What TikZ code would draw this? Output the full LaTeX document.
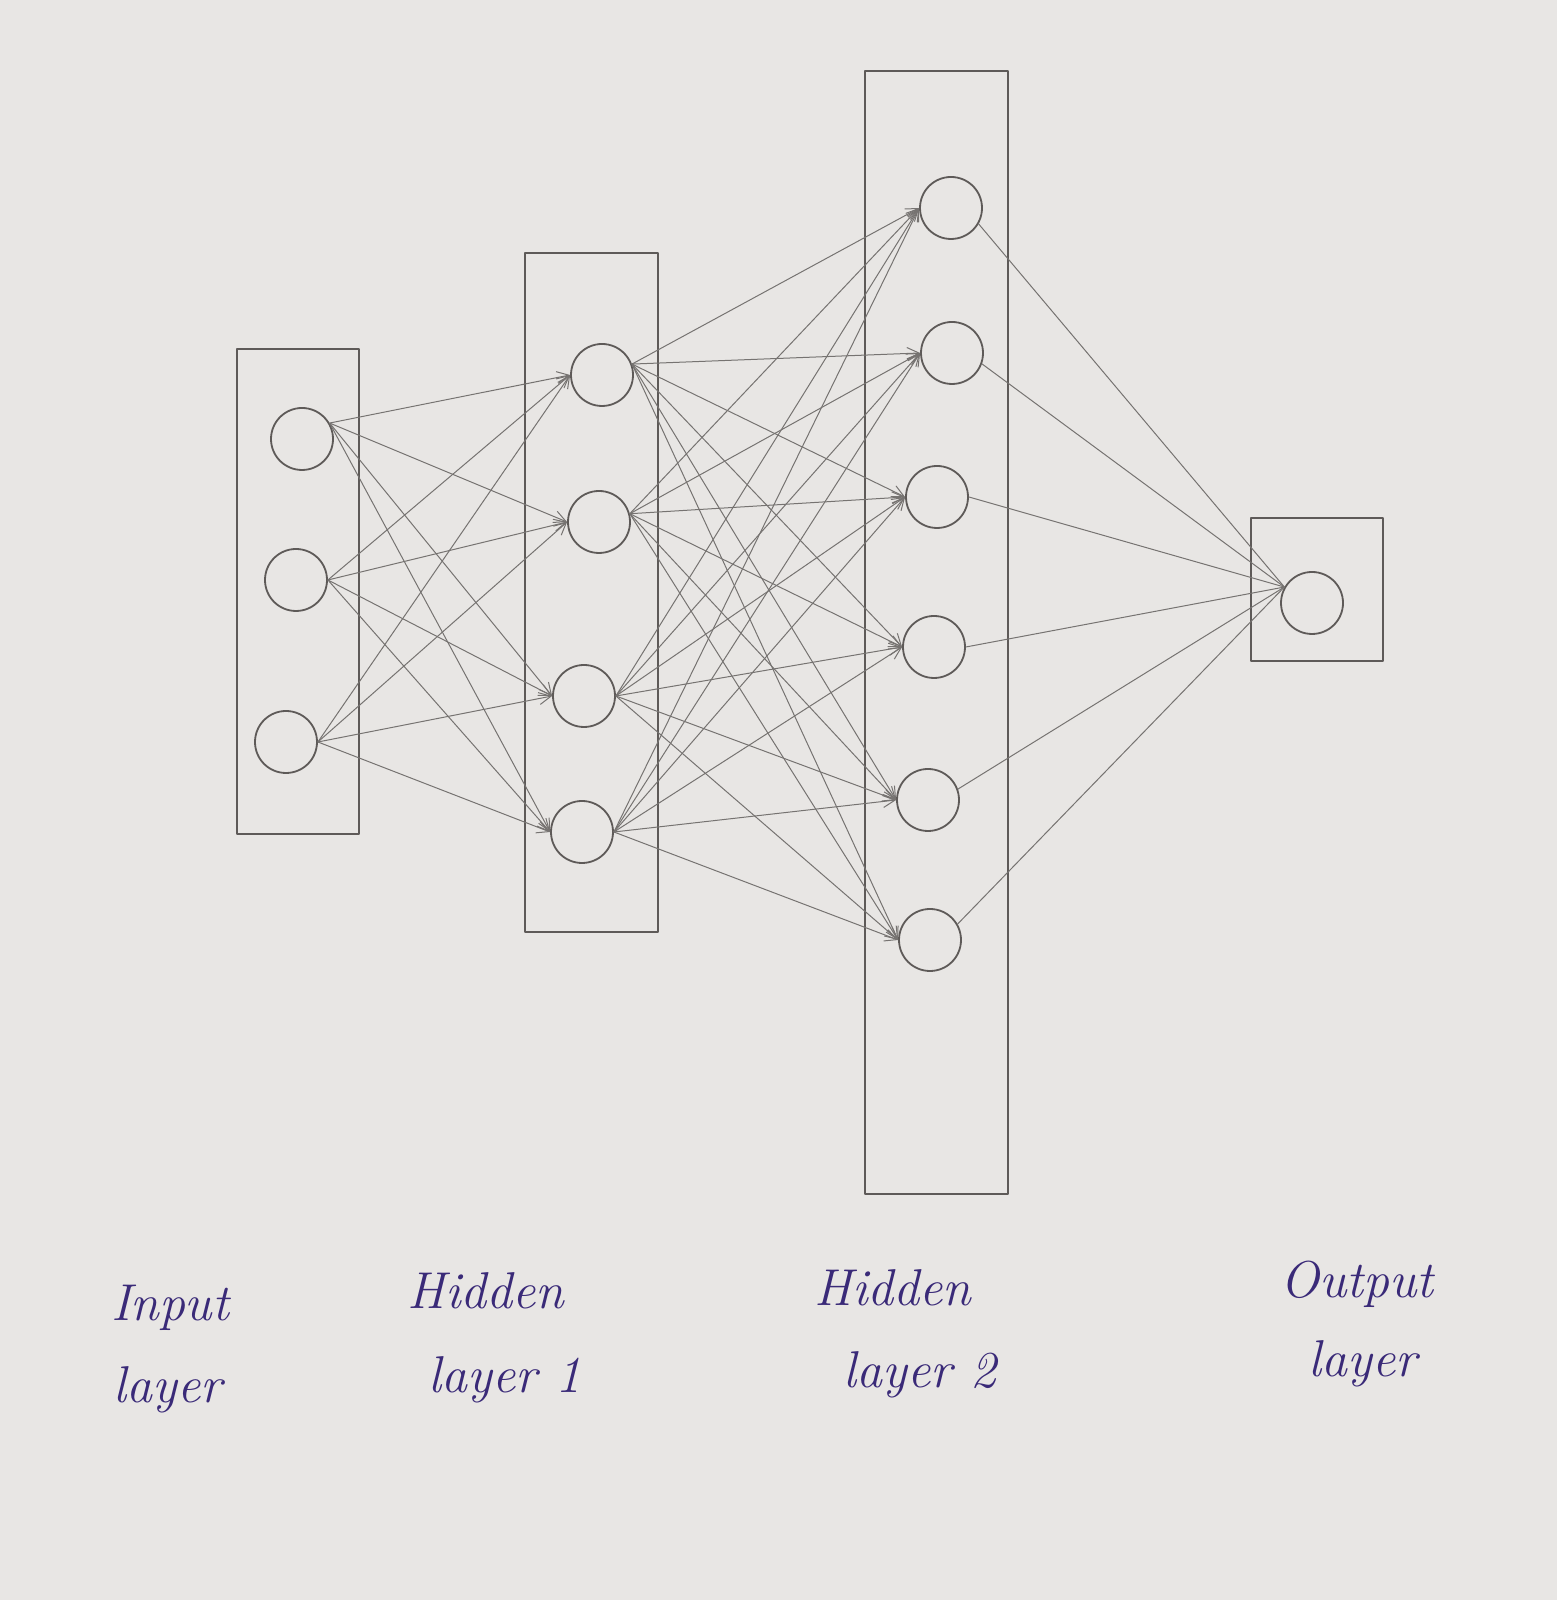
\documentclass[tikz,border=0pt]{standalone}
\usepackage{tikz}
\usetikzlibrary{arrows.meta}
\definecolor{paper}{HTML}{E8E6E4}
\definecolor{pencil}{HTML}{5E5A58}
\definecolor{ink}{HTML}{3A2A78}
\tikzset{
  unit/.style={draw=pencil,line width=0.9bp,circle,inner sep=0pt,minimum size=31bp},
  layerbox/.style={draw=pencil,line width=0.8bp,rectangle,inner sep=0pt},
  wire/.style={pencil!85,line width=0.5bp},
  caption/.style={ink,anchor=base,font=\fontsize{26}{30}\selectfont\itshape},
}
\begin{document}
\begin{tikzpicture}[>={Straight Barb[length=6bp,width=6bp]},line join=bevel,]
%%
\fill [paper] (0bp,0bp) rectangle (778.5bp,800bp);
\useasboundingbox (0bp,0bp) rectangle (778.5bp,800bp);
%%
\node (box_in) at (149bp,504.25bp) [layerbox,minimum width=61bp,minimum height=242.5bp] {};
  \node (box_h1) at (295.75bp,503.75bp) [layerbox,minimum width=66.5bp,minimum height=339.5bp] {};
  \node (box_h2) at (468.25bp,483.75bp) [layerbox,minimum width=71.5bp,minimum height=561.5bp] {};
  \node (box_out) at (658.5bp,505.25bp) [layerbox,minimum width=66bp,minimum height=71.5bp] {};
%
\node (in_1) at (151bp,580.5bp) [unit] {};
  \node (in_2) at (148bp,510bp) [unit] {};
  \node (in_3) at (143bp,429bp) [unit] {};
  \node (ha_1) at (301bp,612.5bp) [unit] {};
  \node (ha_2) at (299.5bp,539bp) [unit] {};
  \node (ha_3) at (292bp,452bp) [unit] {};
  \node (ha_4) at (291bp,384bp) [unit] {};
  \node (hb_1) at (475.5bp,696bp) [unit] {};
  \node (hb_2) at (476bp,623.5bp) [unit] {};
  \node (hb_3) at (468.5bp,551.5bp) [unit] {};
  \node (hb_4) at (467bp,476.5bp) [unit] {};
  \node (hb_5) at (464bp,400bp) [unit] {};
  \node (hb_6) at (465bp,330bp) [unit] {};
  \node (out_1) at (656bp,498.5bp) [unit] {};
%
\draw [wire,->] (in_1.30) -- (ha_1.west);
  \draw [wire,->] (in_1.30) -- (ha_2.west);
  \draw [wire,->] (in_1.30) -- (ha_3.west);
  \draw [wire,->] (in_1.30) -- (ha_4.west);
  \draw [wire,->] (in_2.east) -- (ha_1.west);
  \draw [wire,->] (in_2.east) -- (ha_2.west);
  \draw [wire,->] (in_2.east) -- (ha_3.west);
  \draw [wire,->] (in_2.east) -- (ha_4.west);
  \draw [wire,->] (in_3.east) -- (ha_1.west);
  \draw [wire,->] (in_3.east) -- (ha_2.west);
  \draw [wire,->] (in_3.east) -- (ha_3.west);
  \draw [wire,->] (in_3.east) -- (ha_4.west);
%
\draw [wire,->] (ha_1.20) -- (hb_1.west);
  \draw [wire,->] (ha_1.20) -- (hb_2.west);
  \draw [wire,->] (ha_1.20) -- (hb_3.west);
  \draw [wire,->] (ha_1.20) -- (hb_4.west);
  \draw [wire,->] (ha_1.20) -- (hb_5.west);
  \draw [wire,->] (ha_1.20) -- (hb_6.west);
  \draw [wire,->] (ha_2.15) -- (hb_1.west);
  \draw [wire,->] (ha_2.15) -- (hb_2.west);
  \draw [wire,->] (ha_2.15) -- (hb_3.west);
  \draw [wire,->] (ha_2.15) -- (hb_4.west);
  \draw [wire,->] (ha_2.15) -- (hb_5.west);
  \draw [wire,->] (ha_2.15) -- (hb_6.west);
  \draw [wire,->] (ha_3.east) -- (hb_1.west);
  \draw [wire,->] (ha_3.east) -- (hb_2.west);
  \draw [wire,->] (ha_3.east) -- (hb_3.west);
  \draw [wire,->] (ha_3.east) -- (hb_4.west);
  \draw [wire,->] (ha_3.east) -- (hb_5.west);
  \draw [wire,->] (ha_3.east) -- (hb_6.west);
  \draw [wire,->] (ha_4.east) -- (hb_1.west);
  \draw [wire,->] (ha_4.east) -- (hb_2.west);
  \draw [wire,->] (ha_4.east) -- (hb_3.west);
  \draw [wire,->] (ha_4.east) -- (hb_4.west);
  \draw [wire,->] (ha_4.east) -- (hb_5.west);
  \draw [wire,->] (ha_4.east) -- (hb_6.west);
%
\draw [wire] (hb_1.-30) -- (out_1.150);
  \draw [wire] (hb_2.-20) -- (out_1.150);
  \draw [wire] (hb_3.east) -- (out_1.150);
  \draw [wire] (hb_4.east) -- (out_1.150);
  \draw [wire] (hb_5.20) -- (out_1.150);
  \draw [wire] (hb_6.30) -- (out_1.150);
%
\node (cap_in_a) at (85bp,139.5bp) [caption] {Input};
  \node (cap_in_b) at (84bp,98.5bp) [caption] {layer};
  \node (cap_ha_a) at (243bp,145.5bp) [caption] {Hidden};
  \node (cap_ha_b) at (252.5bp,103.5bp) [caption] {layer 1};
  \node (cap_hb_a) at (446.5bp,147bp) [caption] {Hidden};
  \node (cap_hb_b) at (460bp,106bp) [caption] {layer 2};
  \node (cap_out_a) at (678.5bp,151bp) [caption] {Output};
  \node (cap_out_b) at (681.5bp,111.5bp) [caption] {layer};
%
\end{tikzpicture}
\end{document}
